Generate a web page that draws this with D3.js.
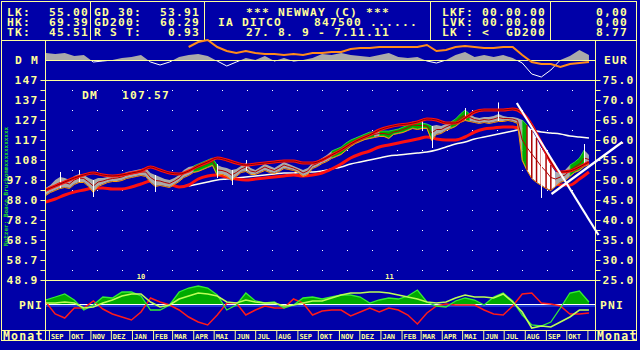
<!DOCTYPE html>
<html>
<head>
<meta charset="utf-8">
<script src="https://cdn.jsdelivr.net/npm/d3@7/dist/d3.min.js"></script>
<style>
html, body { margin: 0; padding: 0; background: #0000a8; }
svg { display: block; }
text { font-family: "DejaVu Sans Mono", monospace; font-weight: bold; white-space: pre; letter-spacing: 1.2px; }
text.small { letter-spacing: 0; }
</style>
</head>
<body>
<svg id="chart" width="640" height="350"></svg>
<script>
// ---------------- data (EUR) ----------------
var firstWeek = new Date(2009, 7, 28);          // weekly samples start here

// weekly high / low of the price band
var hiWk = [48.0,48.75,50.0,50.75,50.5,50.0,51.0,51.5,51.25,50.5,50.0,50.5,50.5,50.75,51.0,51.25,51.5,52.0,52.25,52.5,
  52.75,53.0,51.75,51.25,50.75,50.25,50.0,50.5,51.25,52.5,53.25,53.5,54.0,54.5,55.0,55.5,53.75,53.25,53.0,52.5,
  52.75,53.5,54.25,53.0,52.5,53.25,54.0,53.5,53.0,53.75,54.5,54.0,53.5,53.0,52.5,53.0,54.25,54.75,55.5,56.25,
  57.25,57.75,58.25,59.25,60.0,60.5,61.0,61.5,62.0,62.0,62.25,62.25,62.25,62.5,62.75,63.25,63.75,64.5,64.5,64.25,
  64.0,63.5,63.75,63.5,64.0,64.5,65.25,66.5,67.5,66.5,65.75,65.5,65.75,65.75,66.0,66.5,66.0,65.75,65.75,65.5,
  65.0,63.75,62.5,60.5,58.0,56.25,53.75,52.0,52.0,52.5,53.75,54.5,55.5,57.5,56.25];
var loWk = [46.25,47.0,47.5,48.0,48.25,48.0,49.0,49.5,49.5,48.5,47.0,48.5,49.0,49.5,49.75,49.75,50.0,50.5,50.75,51.0,
  51.25,51.0,49.5,48.5,48.75,48.5,48.25,49.0,49.75,50.75,51.25,52.0,52.25,52.75,53.25,53.75,51.25,51.5,51.0,50.0,
  51.0,52.0,52.25,51.5,51.5,52.0,52.5,52.0,51.75,52.25,53.0,52.75,52.5,52.0,51.0,51.5,53.0,53.5,54.25,54.75,
  55.5,56.0,56.5,57.5,58.5,59.25,59.75,60.25,60.5,60.75,61.0,61.0,60.5,61.5,61.75,62.0,62.5,63.0,62.75,63.0,
  63.0,60.0,61.5,61.75,62.5,63.0,63.5,64.5,65.0,64.75,64.5,64.25,64.5,64.25,64.5,64.75,64.75,65.0,64.75,64.25,
  55.0,52.5,50.5,49.5,48.75,48.0,47.5,48.5,49.5,50.0,51.0,52.0,52.5,53.5,54.0];
// weekly trend state: 0 neutral, 1 rising, 2 sell-off
var trendWk = [0,0,0,0,0,0,0,0,0,0,0,0,0,0,0,0,0,0,0,0,0,0,0,0,0,0,0,0,0,0,0,
  1,1,1,1,1,
  0,0,0,0,0,0,0,0,0,0,0,0,0,0,0,0,0,0,0,0,0,0,0,0,
  1,1,1,1,1,1,1,1,1,
  0,
  1,1,1,1,1,1,1,1,1,1,1,
  0,0,0,0,
  1,1,1,1,
  0,0,0,0,0,0,0,0,0,0,0,
  1,
  2,2,2,2,2,2,
  0,0,0,
  1,1,1,
  0,0];
// single-day wicks: [week, high, low]
var wicks = [[3,52.0,48.0],[7,52.5,49.5],[10,50.0,45.75],[23,51.25,47.0],[36,54.0,50.5],[39,52.5,48.75],
  [42,55.0,52.25],[79,65.0,62.5],[81,63.5,58.0],[88,68.0,65.0],[95,69.39,64.75],[104,58.0,45.51],[113,59.0,53.5]];

// two-weekly series
var upperBand = [47.5,48.5,49.5,50.5,51.25,51.75,51.25,51.0,51.25,51.75,52.25,53.25,52.5,51.75,51.5,52.25,53.5,54.5,55.5,55.0,
  54.25,53.75,54.0,54.25,54.5,54.75,54.75,54.25,54.25,55.0,56.25,57.5,59.0,60.25,61.25,62.5,63.25,63.75,64.0,64.5,
  65.25,65.0,64.25,64.25,65.5,67.0,67.5,67.5,67.5,67.75,66.75,63.75,59.25,54.5,52.0,52.25,53.25,54.5];
var lowerBand = [44.5,45.25,46.25,47.0,47.5,48.0,48.0,47.75,47.75,48.25,49.0,49.75,49.75,49.0,48.25,48.75,50.25,51.0,51.25,50.75,
  50.25,50.0,50.25,50.5,50.75,51.0,51.25,51.0,51.25,51.75,52.75,54.0,55.5,56.5,57.25,58.25,58.75,59.25,59.75,60.25,
  60.75,60.25,60.0,60.0,60.75,62.0,62.75,63.0,63.25,63.25,62.5,59.25,55.0,50.5,48.75,48.75,50.25,52.0];
var gd200 = [null,null,null,null,null,null,null,null,null,null,null,null,null,null,null,
  48.5,49.0,49.5,50.0,50.25,50.5,50.75,51.0,51.25,51.5,51.75,51.75,52.0,52.0,52.25,52.75,53.25,54.0,54.5,55.0,
  55.5,56.0,56.25,56.5,56.75,57.0,57.5,58.25,59.0,59.5,60.25,60.75,61.25,61.75,62.25,62.75,62.5,62.0,61.75,61.5,
  61.0,60.75,60.5];
// DM strip: oscillator and relative strength
var dmOsc = [7,6,7,4,5,-2,-1,0,2,3,5,-2,-5,-2,3,5,6,4,-1,-6,-2,2,0,4,-1,2,-1,0,2,6,
  5,7,5,4,3,5,7,3,2,3,-1,-3,0,5,8,3,5,3,5,2,-3,-14,-17,-10,0,4,10,5];
var relStr = [null,null,null,null,null,null,null,null,null,null,null,null,null,null,null,
  13,18,20,13,9,7,9,7,6,6,5,6,5,7,7,8,8,11,12,12,13,13,13,13,13,15,9,10,13,14,13,12,12,13,13,5,-2,-4,-4,-7,-4,-3,-2];
// PNI panel
var pni = [5,8,11,5,-5,0,8,7,13,13,9,-5,-5,0,13,17,19,17,10,-5,0,12,4,2,3,-3,0,7,8,6,
  8,10,10,8,2,5,7,6,9,15,3,-1,-2,4,7,5,0,8,12,4,-10,-20,-21,-17,-3,12,14,3];
var pniSignal = [2,2,3,2,-3,-2,2,5,9,11,11,3,-2,0,6,9,12,11,9,3,2,5,3,2,2,-1,0,2,4,4,
  7,10,12,12,13,13,12,10,8,6,3,2,3,7,10,8,8,7,11,3,-7,-23,-21,-22,-17,-12,-5,-5];
var pniRed = [3,-9,-13,-3,-3,4,-4,-9,-12,-15,-7,7,3,0,-5,-12,-17,-20,-10,2,2,-10,-5,-1,-3,-3,6,2,-10,-6,
  -5,-5,-11,-7,-3,-7,-3,-5,-10,-19,-8,-1,1,0,0,0,-5,-9,-10,-1,11,12,2,1,-1,-9,-9,-8];

// trend lines: [[date, EUR], [date, EUR]]
var trendLines = [
  [[new Date(2011, 6, 21), 69.25], [new Date(2011, 10, 18), 36.25]],
  [[new Date(2011, 8, 10), 46.5], [new Date(2011, 11, 23), 59.5]]
];

var months = ["SEP","OKT","NOV","DEZ","JAN","FEB","MAR","APR","MAI","JUN","JUL","AUG",
  "SEP","OKT","NOV","DEZ","JAN","FEB","MAR","APR","MAI","JUN","JUL","AUG","SEP","OKT"];
var years = ["10", "11"];
var eurTicks = [75, 70, 65, 60, 55, 50, 45, 40, 35, 30, 25];
var dmTickLabels = ["147","137","127","117","108","97.8","88.0","78.2","68.5","58.7","48.9"];

// ---------------- setup ----------------
var FG = "#ffff99", BG = "#0000a8";
var svg = d3.select("#chart");
svg.append("rect").attr("width", 640).attr("height", 350).attr("fill", BG);

var x = d3.scaleTime().domain([new Date(2009, 7, 27), new Date(2011, 10, 7)]).range([45, 591]);
var y = d3.scaleLinear().domain([25, 75]).range([280, 80]);
var yTop = d3.scaleLinear().domain([-20, 20]).range([80, 40]);
var yPni = d3.scaleLinear().domain([-25, 25]).range([330, 280]);

function wkDate(i) { return d3.timeDay.offset(firstWeek, 7 * i); }
function biDate(j) { return d3.timeDay.offset(firstWeek, 14 * j); }

var defs = svg.append("defs");
function clip(id, x0, y0, w, h) {
  defs.append("clipPath").attr("id", id).append("rect")
    .attr("x", x0).attr("y", y0).attr("width", w).attr("height", h);
}
clip("cMain", 46, 80, 549, 200);
clip("cTopPos", 46, 40, 549, 20);
clip("cTopNeg", 46, 61, 549, 19);
clip("cPniPos", 46, 280, 549, 25);
clip("cPni", 46, 281, 549, 49);

// ---------------- frame ----------------
var frame = svg.append("g").attr("stroke", FG).attr("stroke-width", 1).attr("fill", "none");
function hline(y0, x0, x1) { frame.append("line").attr("x1", x0).attr("x2", x1).attr("y1", y0).attr("y2", y0); }
function vline(x0, y0, y1) { frame.append("line").attr("x1", x0).attr("x2", x0).attr("y1", y0).attr("y2", y1); }
hline(1.5, 1, 637);
hline(40.5, 1, 637);
hline(330.5, 1, 637);
hline(340.5, 1, 637);
vline(1.5, 1, 341);
vline(636.5, 1, 341);
[90.5, 204.5, 430.5, 550.5].forEach(function(v) { vline(v, 1, 40); });
vline(45.5, 40, 341);
vline(595.5, 40, 341);

// ---------------- header ----------------
var hdr = svg.append("g").attr("fill", FG).attr("font-size", 11.3);
function txt(g, s, x0, y0, anchor) {
  return g.append("text").attr("x", x0).attr("y", y0).attr("text-anchor", anchor || "start").text(s);
}
var rows = [15.5, 25.5, 35.5];
[["LK:", "55.00"], ["HK:", "69.39"], ["TK:", "45.51"]].forEach(function(r, i) {
  txt(hdr, r[0], 7, rows[i]); txt(hdr, r[1], 89, rows[i], "end");
});
[["GD 30:", "53.91"], ["GD200:", "60.29"], ["R S T:", "0.93"]].forEach(function(r, i) {
  txt(hdr, r[0], 94, rows[i]); txt(hdr, r[1], 200, rows[i], "end");
});
["*** NEWWAY (C) ***", "IA DITCO    847500 ......", "27. 8. 9 - 7.11.11"].forEach(function(s, i) {
  txt(hdr, s, 318, rows[i], "middle");
});
[["LKF:", "00.00.00"], ["LVK:", "00.00.00"], ["LK :", "<  GD200"]].forEach(function(r, i) {
  txt(hdr, r[0], 442, rows[i]); txt(hdr, r[1], 546, rows[i], "end");
});
["0,00", "0,00", "8.77"].forEach(function(s, i) { txt(hdr, s, 628, rows[i], "end"); });

// ---------------- grid dots ----------------
var dotCols = d3.range(72, 595, 25);
var dotRows = d3.range(27.5, 75, 5);
var dots = svg.append("g").attr("fill", "#ffffff");
dotCols.forEach(function(cx) {
  dotRows.forEach(function(v) {
    dots.append("rect").attr("x", cx).attr("y", Math.round(y(v))).attr("width", 1).attr("height", 1);
  });
});

// ---------------- axes ----------------
function styleAxis(g) {
  g.select(".domain").remove();
  g.selectAll("line").attr("stroke", FG);
  g.selectAll("text").attr("fill", FG).attr("font-size", 11.3)
    .attr("font-family", "DejaVu Sans Mono").attr("font-weight", "bold");
}
var minorTicks = d3.range(27.5, 75, 5);
svg.append("g").attr("transform", "translate(45.5,0)")
  .call(d3.axisLeft(y).tickValues(eurTicks).tickSize(5).tickPadding(2)
    .tickFormat(function(d, i) { return dmTickLabels[i]; }))
  .call(styleAxis);
svg.append("g").attr("transform", "translate(45.5,0)")
  .call(d3.axisLeft(y).tickValues(minorTicks).tickSize(5).tickFormat(""))
  .call(styleAxis);
svg.append("g").attr("transform", "translate(595.5,0)")
  .call(d3.axisRight(y).tickValues(eurTicks).tickSize(5).tickPadding(2).tickFormat(d3.format(".1f")))
  .call(styleAxis);
svg.append("g").attr("transform", "translate(595.5,0)")
  .call(d3.axisRight(y).tickValues(minorTicks).tickSize(5).tickFormat(""))
  .call(styleAxis);
// top and bottom lines of the price panel
svg.append("g").selectAll("line").data([75, 25]).join("line")
  .attr("x1", 45).attr("x2", 595)
  .attr("y1", function(d) { return y(d) + 0.5; }).attr("y2", function(d) { return y(d) + 0.5; })
  .attr("stroke", FG);

// ---------------- labels ----------------
var lab = svg.append("g").attr("fill", FG).attr("font-size", 11.3);
txt(lab, "D M", 15, 64);
txt(lab, "EUR", 604, 64);
txt(lab, "PNI", 19, 309);
txt(lab, "PNI", 600, 309);
txt(lab, "Monat", 3, 340).attr("font-size", 11.5);
txt(lab, "Monat", 597, 340).attr("font-size", 11.5);
txt(lab, "DM   107.57", 82, 99).attr("letter-spacing", 0.2);
svg.append("text").attr("class", "small").attr("transform", "translate(8,246) rotate(-90)")
  .attr("font-size", 6).attr("fill", "#22dd22").text("Nutzer: Boaco Bruckonmxxxxxxxxxxx");

// ---------------- month row ----------------
var monthStarts = d3.timeMonth.range(new Date(2009, 8, 1), new Date(2011, 11, 1));
svg.append("g").attr("transform", "translate(0,330)")
  .call(d3.axisBottom(x).tickValues(monthStarts).tickSize(10).tickFormat(""))
  .call(styleAxis)
  .selectAll("line").attr("transform", "translate(0.5,0)");
svg.append("g").attr("fill", FG).attr("font-size", 7).selectAll("text")
  .data(months).join("text").attr("class", "small")
  .attr("x", function(d, i) { return x(monthStarts[i]) + 2.5; })
  .attr("y", 339)
  .text(function(d) { return d; });
svg.append("g").attr("fill", FG).attr("font-size", 7).selectAll("text")
  .data(years).join("text").attr("class", "small")
  .attr("x", function(d, i) { return x(new Date(2010 + i, 0, 15)); })
  .attr("y", 278.5).attr("text-anchor", "middle")
  .text(function(d) { return d; });

// ---------------- DM strip ----------------
var biIdx = d3.range(dmOsc.length);
var strip = svg.append("g");
strip.append("path")
  .datum(biIdx)
  .attr("clip-path", "url(#cTopPos)")
  .attr("fill", "#aaaaaa")
  .attr("d", d3.area().x(function(j) { return x(biDate(j)); })
    .y0(yTop(0)).y1(function(j) { return yTop(dmOsc[j]); }));
strip.append("path")
  .datum(biIdx)
  .attr("clip-path", "url(#cTopNeg)")
  .attr("fill", "none").attr("stroke", "#ffffff")
  .attr("d", d3.line().x(function(j) { return x(biDate(j)); }).y(function(j) { return yTop(dmOsc[j]); }));
strip.append("line").attr("x1", 45).attr("x2", 595).attr("y1", 60.5).attr("y2", 60.5).attr("stroke", FG);
strip.append("path")
  .datum(biIdx)
  .attr("fill", "none").attr("stroke", "#ff8c1a").attr("stroke-width", 2)
  .attr("d", d3.line().defined(function(j) { return relStr[j] != null; })
    .x(function(j) { return x(biDate(j)); }).y(function(j) { return yTop(relStr[j]); }));

// ---------------- price panel ----------------
var main = svg.append("g").attr("clip-path", "url(#cMain)");
var bandLine = function(arr) {
  return d3.line().defined(function(j) { return arr[j] != null; })
    .curve(d3.curveMonotoneX)
    .x(function(j) { return x(biDate(j)); }).y(function(j) { return y(arr[j]); });
};
main.append("path").datum(biIdx).attr("fill", "none").attr("stroke", "#fffff0").attr("stroke-width", 1.5)
  .attr("d", bandLine(gd200));
main.append("path").datum(biIdx).attr("fill", "none").attr("stroke", "#ff1010").attr("stroke-width", 3)
  .attr("d", bandLine(lowerBand));

// price band, coloured by trend runs
var trendFill = ["#aaaaaa", "#00aa00", "#ffffff"];
var wkArea = d3.area()
  .x(function(i) { return x(wkDate(i)); })
  .y0(function(i) { return y(loWk[i]); })
  .y1(function(i) { return y(hiWk[i]); });
var runStart = 0;
for (var i = 1; i <= trendWk.length; i++) {
  if (i === trendWk.length || trendWk[i] !== trendWk[runStart]) {
    var idx = d3.range(runStart, Math.min(i + 1, trendWk.length));
    main.append("path").datum(idx).attr("fill", trendFill[trendWk[runStart]])
      .attr("stroke", trendWk[runStart] === 1 ? "#55ff55" : "none").attr("stroke-width", 0.6)
      .attr("d", wkArea);
    runStart = i;
  }
}
var wkIdx = d3.range(hiWk.length);
main.append("path").datum(wkIdx).attr("fill", "none").attr("stroke", "#ff9900").attr("stroke-width", 1)
  .attr("d", d3.line().x(function(i) { return x(wkDate(i)); }).y(function(i) { return y(loWk[i]) + 0.5; }));
main.append("path").datum(wkIdx).attr("fill", "none").attr("stroke", "#b00000").attr("stroke-width", 1)
  .attr("d", d3.line().x(function(i) { return x(wkDate(i)); })
    .y(function(i) { return y((hiWk[i] + loWk[i]) / 2); }));
// sell-off bars
main.append("g").selectAll("line").data(wkIdx.filter(function(i) { return trendWk[i] === 2; })).join("line")
  .attr("x1", function(i) { return x(wkDate(i)); }).attr("x2", function(i) { return x(wkDate(i)); })
  .attr("y1", function(i) { return y(hiWk[i]); }).attr("y2", function(i) { return y(loWk[i]); })
  .attr("stroke", "#aa0000").attr("stroke-width", 1.5);
// wicks
main.append("g").selectAll("line").data(wicks).join("line")
  .attr("x1", function(d) { return Math.round(x(wkDate(d[0]))) + 0.5; })
  .attr("x2", function(d) { return Math.round(x(wkDate(d[0]))) + 0.5; })
  .attr("y1", function(d) { return y(d[1]); }).attr("y2", function(d) { return y(d[2]); })
  .attr("stroke", "#ffffff").attr("stroke-width", 1);
main.append("path").datum(biIdx).attr("fill", "none").attr("stroke", "#ff1010").attr("stroke-width", 3)
  .attr("d", bandLine(upperBand));
main.append("path").datum(biIdx).attr("fill", "none").attr("stroke", "#880000").attr("stroke-width", 1)
  .attr("d", bandLine(upperBand));

// trend lines (run past the panel edge)
svg.append("g").selectAll("line").data(trendLines).join("line")
  .attr("x1", function(d) { return x(d[0][0]); }).attr("y1", function(d) { return y(d[0][1]); })
  .attr("x2", function(d) { return x(d[1][0]); }).attr("y2", function(d) { return y(d[1][1]); })
  .attr("stroke", "#ffffff").attr("stroke-width", 2.2);

// ---------------- PNI panel ----------------
var pg = svg.append("g").attr("clip-path", "url(#cPni)");
var px = function(j) { return x(biDate(j)); };
pg.append("path").datum(biIdx).attr("clip-path", "url(#cPniPos)").attr("fill", "#00aa00")
  .attr("d", d3.area().x(px).y0(yPni(0)).y1(function(j) { return yPni(pni[j]); }));
pg.append("line").attr("x1", 45).attr("x2", 595).attr("y1", 304.5).attr("y2", 304.5).attr("stroke", "#ffffff");
pg.append("line").attr("x1", 45).attr("x2", 595).attr("y1", 306).attr("y2", 306).attr("stroke", "#3b6bff").attr("stroke-width", 1.2);
pg.append("path").datum(biIdx).attr("fill", "none").attr("stroke", "#ff1a1a").attr("stroke-width", 1.5)
  .attr("d", d3.line().x(px).y(function(j) { return yPni(pniRed[j]); }));
pg.append("path").datum(biIdx).attr("fill", "none").attr("stroke", "#33ee33").attr("stroke-width", 1.3)
  .attr("d", d3.line().x(px).y(function(j) { return yPni(pni[j]); }));
pg.append("path").datum(biIdx).attr("fill", "none").attr("stroke", "#bbff55").attr("stroke-width", 1.6)
  .attr("d", d3.line().x(px).y(function(j) { return yPni(pniSignal[j]); }));
</script>
</body>
</html>
